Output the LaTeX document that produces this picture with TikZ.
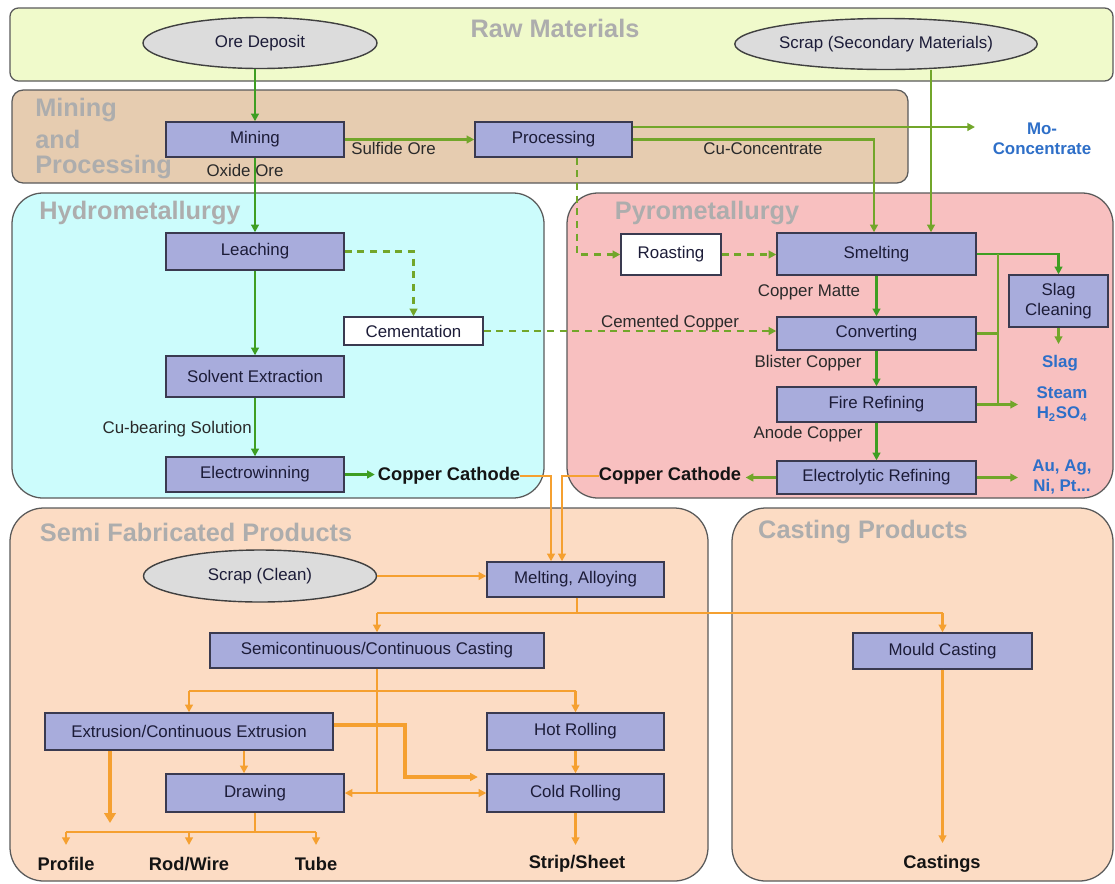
\documentclass[tikz,border=0pt]{standalone}
\usepackage{fontspec}
\setmainfont{Liberation Sans}
\usetikzlibrary{arrows.meta,shapes.geometric}
\definecolor{rawfill}{HTML}{F0FACB}
\definecolor{minefill}{HTML}{E6CCB0}
\definecolor{hydrofill}{HTML}{CCFCFC}
\definecolor{pyrofill}{HTML}{F8C0C0}
\definecolor{semifill}{HTML}{FCDCC4}
\definecolor{boxfill}{HTML}{A8ACDC}
\definecolor{boxline}{HTML}{3A3A50}
\definecolor{ovalfill}{HTML}{DCDCDC}
\definecolor{ovalline}{HTML}{404040}
\definecolor{panelline}{HTML}{5A5A5A}
\definecolor{titlegray}{HTML}{ADADAD}
\definecolor{boxtext}{HTML}{1C1C38}
\definecolor{lbltext}{HTML}{2A2A2A}
\definecolor{darktext}{HTML}{141414}
\definecolor{bluetext}{HTML}{2E6FC8}
\definecolor{greenA}{HTML}{3E9E22}
\definecolor{greenB}{HTML}{72A62A}
\definecolor{orangeA}{HTML}{F5A030}
\newcommand\fsreg{\fontsize{12}{14}\selectfont}
\newcommand\fsbold{\fontsize{13}{15}\selectfont\bfseries}
\newcommand\fsblue{\fontsize{12}{14.5}\selectfont\bfseries}
\newcommand\fstitle{\fontsize{18}{20.5}\selectfont\bfseries}
\newcommand\bx[7][box]{\node[#1, minimum width={(#5-#3)*0.025cm}, minimum height={(#6-#4)*0.025cm}] (#2) at ({(#3+#5)/2},{(#4+#6)/2}) {#7};}
\tikzset{
 box/.style={draw=boxline, fill=boxfill, line width=1pt, inner sep=0pt, font=\fsreg, text=boxtext, align=center},
 wbox/.style={box, fill=white},
 oval/.style={ellipse, draw=ovalline, fill=ovalfill, line width=1pt, inner sep=0pt, font=\fsreg, text=boxtext},
 lbl/.style={font=\fsreg, text=lbltext, inner sep=0pt},
 blbl/.style={font=\fsbold, text=darktext, inner sep=0pt},
 bluelbl/.style={font=\fsblue, text=bluetext, inner sep=0pt, align=center},
 ptitle/.style={font=\fstitle, text=titlegray, inner sep=0pt},
 panel/.style={draw=panelline, line width=0.9pt},
 ga/.style={draw=greenA, line width=1.8pt},
 gb/.style={draw=greenB, line width=1.8pt},
 gd/.style={draw=greenB, line width=1.8pt, dash pattern=on 5pt off 4pt},
 og/.style={draw=orangeA, line width=1.7pt},
 ogt/.style={draw=orangeA, line width=3pt},
 tip/.style={-{Triangle[length=5.5pt,width=5.5pt]}},
 bigtip/.style={-{Triangle[length=7pt,width=8pt]}},
}
\begin{document}
\begin{tikzpicture}[x=0.025cm,y=-0.025cm]
\useasboundingbox (0,0) rectangle (1115,883);
\fill[white] (0,0) rectangle (1115,883);
% panels
\draw[panel, fill=rawfill, rounded corners=6pt] (10,8) rectangle (1113,81);
\draw[panel, fill=minefill, rounded corners=8pt] (12,90) rectangle (908,183);
\draw[panel, fill=hydrofill, rounded corners=22pt] (12,193) rectangle (544,498);
\draw[panel, fill=pyrofill, rounded corners=22pt] (567,193) rectangle (1113,498);
\draw[panel, fill=semifill, rounded corners=24pt] (10,508) rectangle (708,881);
\draw[panel, fill=semifill, rounded corners=24pt] (732,508) rectangle (1113,881);
% titles
\node[ptitle] (traw) at (555,28) {Raw Materials};
\node[ptitle, anchor=west] (tmine1) at (35,110) {Mining};
\node[ptitle, anchor=west] (tmine2) at (35,139) {and};
\node[ptitle, anchor=west] (tmine3) at (35,167) {Processing};
\node[ptitle] (thydro) at (140,213) {Hydrometallurgy};
\node[ptitle] (tpyro) at (707,213) {Pyrometallurgy};
\node[ptitle] (tsemi) at (196,532) {Semi Fabricated Products};
\node[ptitle] (tcast) at (863,532) {Casting Products};
% ovals
\node[oval, minimum width={234*0.025cm}, minimum height={51*0.025cm}] (ore) at (260,43) {Ore Deposit};
\node[oval, minimum width={289*0.025cm}, minimum height={51*0.025cm}] (scrap) at (886,44) {Scrap (Secondary Materials)};
\node[oval, minimum width={233*0.025cm}, minimum height={52*0.025cm}] (scrapc) at (260,576) {Scrap (Clean)};
% boxes
\bx{mining}{166}{122}{344}{157}{Mining}
\bx{proc}{475}{122}{632}{157}{Processing}
\bx{leach}{166}{233}{344}{270}{Leaching}
\bx[wbox]{cem}{344}{317}{483}{345}{Cementation}
\bx{solv}{166}{356}{344}{397}{Solvent Extraction}
\bx{ew}{166}{457}{344}{492}{Electrowinning}
\bx[wbox]{roast}{621}{234}{721}{275}{Roasting}
\bx{smelt}{777}{233}{976}{275}{Smelting}
\bx{conv}{777}{317}{976}{350}{Converting}
\bx{fire}{777}{387}{976}{422}{Fire Refining}
\bx{elec}{777}{461}{976}{494}{Electrolytic Refining}
\bx{slagc}{1009}{275}{1108}{327}{Slag\\Cleaning}
\bx{melt}{487}{562}{664}{597}{Melting, Alloying}
\bx{semi}{210}{633}{544}{668}{Semicontinuous/Continuous Casting}
\bx{mould}{853}{633}{1032}{669}{Mould Casting}
\bx{ext}{45}{713}{333}{750}{Extrusion/Continuous Extrusion}
\bx{hot}{487}{713}{664}{750}{Hot Rolling}
\bx{drawing}{166}{774}{344}{812}{Drawing}
\bx{cold}{487}{774}{664}{812}{Cold Rolling}
% labels
\node[lbl, anchor=west] (sulf) at (351,148) {Sulfide Ore};
\node[lbl] (oxide) at (245,170) {Oxide Ore};
\node[lbl] (cuconc) at (763,149) {Cu-Concentrate};
\node[lbl, anchor=east] (cubear) at (252,429) {Cu-bearing Solution};
\node[lbl] (cmatte) at (809,292) {Copper Matte};
\node[lbl] (cemcu) at (670,323) {Cemented Copper};
\node[lbl] (blister) at (808,363) {Blister Copper};
\node[lbl] (anode) at (808,434) {Anode Copper};
\node[blbl] (cc1) at (449,476) {Copper Cathode};
\node[blbl] (cc2) at (670,476) {Copper Cathode};
\node[bluelbl] (mo) at (1042,139) {Mo-\\Concentrate};
\node[bluelbl] (slag) at (1060,363) {Slag};
\node[bluelbl] (steam) at (1062,404) {Steam\\H\textsubscript{2}SO\textsubscript{4}};
\node[bluelbl] (au) at (1062,477) {Au, Ag,\\Ni, Pt...};
\node[blbl] (profile) at (66,864) {Profile};
\node[blbl] (rodw) at (189,864) {Rod/Wire};
\node[blbl] (tube) at (316,864) {Tube};
\node[blbl] (strip) at (577,864) {Strip/Sheet};
\node[blbl] (castings) at (942,864) {Castings};
% green connectors
\draw[ga,tip] (ore.south -| mining.north) -- (mining.north);
\draw[gb,tip] (mining.east) -- (proc.west);
\draw[ga,tip] (mining.south) -- (leach.north);
\draw[ga,tip] (leach.south) -- (solv.north);
\draw[ga,tip] (solv.south) -- (ew.north);
\draw[ga,tip,shorten >=2pt] (ew.east) -- (ew.east -| cc1.west);
\draw[gd,tip] (leach.east) -| (cem.north);
\draw[gd,tip] (cem.east) -- (cem.east -| conv.west);
\draw[gd,tip] (proc.south -| 577,0) |- (roast.west);
\draw[gd,tip] (roast.east) -- (roast.east -| smelt.west);
\coordinate (moend) at (975,127);
\draw[gb,tip] (proc.east |- moend) -- (moend);
\draw[gb,tip] (proc.east) -| (smelt.north -| 874,0);
\draw[gb,tip] (scrap.south -| 931,0) -- (smelt.north -| 931,0);
\draw[ga,tip] (smelt.south) -- (conv.north);
\draw[ga,tip] (conv.south) -- (fire.north);
\draw[ga,tip] (fire.south) -- (elec.north);
\draw[ga,tip] (smelt.east) -| (slagc.north);
\draw[gb] (smelt.east -| 998,0) -- (fire.east -| 998,0);
\draw[gb] (conv.east) -- (conv.east -| 998,0);
\draw[gb,tip] (fire.east) -- (fire.east -| 1018,0);
\draw[gb,tip] (slagc.south) -- (slagc.south |- 0,344);
\draw[gb,tip] (elec.east) -- (elec.east -| 1018,0);
\draw[gb,tip,shorten >=3pt] (elec.west) -- (elec.west -| cc2.east);
% orange connectors
\draw[og,tip] (cc1.east) -| (melt.north -| 551,0);
\draw[og,tip] (cc2.west) -| (melt.north -| 562,0);
\draw[og,tip] (scrapc.east) -- (scrapc.east -| melt.west);
\coordinate (split1) at (577,613);
\draw[og] (melt.south -| split1) -- (split1);
\draw[og] (semi.north |- split1) -- (mould.north |- split1);
\draw[og,tip] (semi.north |- split1) -- (semi.north);
\draw[og,tip] (mould.north |- split1) -- (mould.north);
\draw[og] (semi.south) -- (semi.south |- drawing.east);
\draw[og,tip] (semi.south |- drawing.east) -- (drawing.east);
\draw[og,tip] (semi.south |- drawing.east) -- (cold.west);
\coordinate (split2) at (377,691);
\draw[og] (ext.north |- split2) -- (hot.north |- split2);
\draw[og,tip] (ext.north |- split2) -- (ext.north);
\draw[og,tip] (hot.north |- split2) -- (hot.north);
\draw[orangeA, line width=2.6pt, tip, shorten >=6pt] (ext.east |- 0,725) -| (405,777) -- (cold.west |- 0,777);
\draw[ogt,bigtip] (ext.south -| 110,0) -- (110,823);
\coordinate (split3) at (256,832);
\draw[og] (profile.north |- split3) -- (tube.north |- split3);
\draw[og] (drawing.south) -- (drawing.south |- split3);
\draw[og,tip] (profile.north |- split3) -- (profile.north |- 0,845);
\draw[og,tip] (rodw.north |- split3) -- (rodw.north |- 0,845);
\draw[og,tip] (tube.north |- split3) -- (tube.north |- 0,845);
\draw[og,tip] (ext.south -| 244,0) -- (drawing.north -| 244,0);
\draw[og,tip] (hot.south) -- (cold.north);
\draw[og,tip] (cold.south) -- (cold.south |- 0,845);
\draw[og,tip] (mould.south) -- (mould.south |- 0,843);
\end{tikzpicture}
\end{document}
